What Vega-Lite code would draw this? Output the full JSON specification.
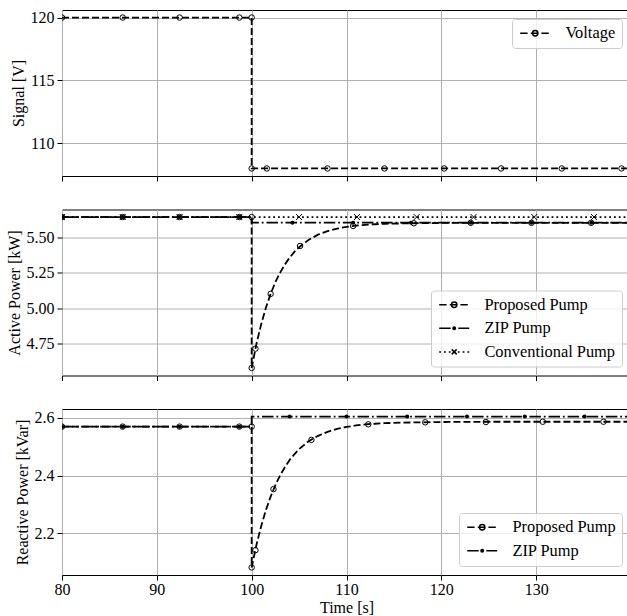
{
  "$schema": "https://vega.github.io/schema/vega-lite/v6.json",
  "padding": {"left": 5, "top": 9, "right": 0, "bottom": 0},
  "background": "white",
  "spacing": 26.5,
  "config": {
    "font": "Liberation Serif",
    "view": {"stroke": "black", "strokeWidth": 1},
    "axis": {
      "labelFont": "Liberation Serif", "titleFont": "Liberation Serif",
      "labelFontSize": 16, "titleFontSize": 16, "labelColor": "black", "titleColor": "black",
      "titleFontWeight": "normal", "domain": false, "tickColor": "black", "tickSize": 5, "tickWidth": 1,
      "gridColor": "#b0b0b0", "gridWidth": 1, "labelPadding": 3, "labelFlush": false, "titlePadding": 4
    },
    "legend": {
      "title": null, "labelFont": "Liberation Serif", "labelFontSize": 16.4, "labelColor": "black",
      "symbolSize": 100, "labelOffset": 31, "rowPadding": 6.6, "padding": 6, "offset": 9,
      "symbolOpacity": 1, "symbolStrokeColor": "black", "symbolStrokeWidth": 1.5, "symbolFillColor": "transparent",
      "strokeColor": "#cccccc", "fillColor": "rgba(255,255,255,0.8)", "cornerRadius": 3
    }
  },
  "datasets": {
    "lines": [
      {"p": "V", "s": "Voltage", "t": 80, "v": 120},
      {"p": "V", "s": "Voltage", "t": 100, "v": 120},
      {"p": "V", "s": "Voltage", "t": 100, "v": 108},
      {"p": "V", "s": "Voltage", "t": 140, "v": 108},
      {"p": "A", "s": "Proposed Pump", "t": 80, "v": 5.645},
      {"p": "A", "s": "Proposed Pump", "t": 100, "v": 5.645},
      {"p": "A", "s": "Proposed Pump", "t": 100, "v": 4.575},
      {"p": "A", "s": "Proposed Pump", "t": 100.5, "v": 4.744},
      {"p": "A", "s": "Proposed Pump", "t": 101, "v": 4.884},
      {"p": "A", "s": "Proposed Pump", "t": 101.5, "v": 5.002},
      {"p": "A", "s": "Proposed Pump", "t": 102, "v": 5.100},
      {"p": "A", "s": "Proposed Pump", "t": 102.5, "v": 5.183},
      {"p": "A", "s": "Proposed Pump", "t": 103, "v": 5.251},
      {"p": "A", "s": "Proposed Pump", "t": 103.5, "v": 5.308},
      {"p": "A", "s": "Proposed Pump", "t": 104, "v": 5.357},
      {"p": "A", "s": "Proposed Pump", "t": 104.5, "v": 5.398},
      {"p": "A", "s": "Proposed Pump", "t": 105, "v": 5.431},
      {"p": "A", "s": "Proposed Pump", "t": 106, "v": 5.483},
      {"p": "A", "s": "Proposed Pump", "t": 107, "v": 5.520},
      {"p": "A", "s": "Proposed Pump", "t": 108, "v": 5.545},
      {"p": "A", "s": "Proposed Pump", "t": 109, "v": 5.563},
      {"p": "A", "s": "Proposed Pump", "t": 110, "v": 5.575},
      {"p": "A", "s": "Proposed Pump", "t": 111, "v": 5.584},
      {"p": "A", "s": "Proposed Pump", "t": 112, "v": 5.590},
      {"p": "A", "s": "Proposed Pump", "t": 113, "v": 5.594},
      {"p": "A", "s": "Proposed Pump", "t": 114, "v": 5.597},
      {"p": "A", "s": "Proposed Pump", "t": 116, "v": 5.600},
      {"p": "A", "s": "Proposed Pump", "t": 118, "v": 5.602},
      {"p": "A", "s": "Proposed Pump", "t": 120, "v": 5.603},
      {"p": "A", "s": "Proposed Pump", "t": 125, "v": 5.604},
      {"p": "A", "s": "Proposed Pump", "t": 140, "v": 5.604},
      {"p": "A", "s": "ZIP Pump", "t": 80, "v": 5.645},
      {"p": "A", "s": "ZIP Pump", "t": 100, "v": 5.645},
      {"p": "A", "s": "ZIP Pump", "t": 100, "v": 5.605},
      {"p": "A", "s": "ZIP Pump", "t": 140, "v": 5.605},
      {"p": "A", "s": "Conventional Pump", "t": 80, "v": 5.645},
      {"p": "A", "s": "Conventional Pump", "t": 140, "v": 5.645},
      {"p": "R", "s": "Proposed Pump", "t": 80, "v": 2.570},
      {"p": "R", "s": "Proposed Pump", "t": 100, "v": 2.570},
      {"p": "R", "s": "Proposed Pump", "t": 100, "v": 2.081},
      {"p": "R", "s": "Proposed Pump", "t": 100.5, "v": 2.159},
      {"p": "R", "s": "Proposed Pump", "t": 101, "v": 2.224},
      {"p": "R", "s": "Proposed Pump", "t": 101.5, "v": 2.280},
      {"p": "R", "s": "Proposed Pump", "t": 102, "v": 2.327},
      {"p": "R", "s": "Proposed Pump", "t": 102.5, "v": 2.367},
      {"p": "R", "s": "Proposed Pump", "t": 103, "v": 2.401},
      {"p": "R", "s": "Proposed Pump", "t": 103.5, "v": 2.429},
      {"p": "R", "s": "Proposed Pump", "t": 104, "v": 2.454},
      {"p": "R", "s": "Proposed Pump", "t": 104.5, "v": 2.474},
      {"p": "R", "s": "Proposed Pump", "t": 105, "v": 2.492},
      {"p": "R", "s": "Proposed Pump", "t": 106, "v": 2.519},
      {"p": "R", "s": "Proposed Pump", "t": 107, "v": 2.538},
      {"p": "R", "s": "Proposed Pump", "t": 108, "v": 2.552},
      {"p": "R", "s": "Proposed Pump", "t": 109, "v": 2.562},
      {"p": "R", "s": "Proposed Pump", "t": 110, "v": 2.569},
      {"p": "R", "s": "Proposed Pump", "t": 111, "v": 2.574},
      {"p": "R", "s": "Proposed Pump", "t": 112, "v": 2.578},
      {"p": "R", "s": "Proposed Pump", "t": 113, "v": 2.580},
      {"p": "R", "s": "Proposed Pump", "t": 114, "v": 2.582},
      {"p": "R", "s": "Proposed Pump", "t": 116, "v": 2.584},
      {"p": "R", "s": "Proposed Pump", "t": 118, "v": 2.585},
      {"p": "R", "s": "Proposed Pump", "t": 120, "v": 2.586},
      {"p": "R", "s": "Proposed Pump", "t": 125, "v": 2.587},
      {"p": "R", "s": "Proposed Pump", "t": 140, "v": 2.587},
      {"p": "R", "s": "ZIP Pump", "t": 80, "v": 2.570},
      {"p": "R", "s": "ZIP Pump", "t": 100, "v": 2.570},
      {"p": "R", "s": "ZIP Pump", "t": 100, "v": 2.605},
      {"p": "R", "s": "ZIP Pump", "t": 140, "v": 2.605}
    ],
    "markers": [
      {"p": "V", "s": "Voltage", "t": 80, "v": 120},
      {"p": "V", "s": "Voltage", "t": 86.4, "v": 120},
      {"p": "V", "s": "Voltage", "t": 92.4, "v": 120},
      {"p": "V", "s": "Voltage", "t": 98.7, "v": 120},
      {"p": "V", "s": "Voltage", "t": 100, "v": 120},
      {"p": "V", "s": "Voltage", "t": 100, "v": 108},
      {"p": "V", "s": "Voltage", "t": 101.6, "v": 108},
      {"p": "V", "s": "Voltage", "t": 108.0, "v": 108},
      {"p": "V", "s": "Voltage", "t": 114.0, "v": 108},
      {"p": "V", "s": "Voltage", "t": 120.3, "v": 108},
      {"p": "V", "s": "Voltage", "t": 126.3, "v": 108},
      {"p": "V", "s": "Voltage", "t": 132.7, "v": 108},
      {"p": "V", "s": "Voltage", "t": 139.0, "v": 108},
      {"p": "A", "s": "Proposed Pump", "t": 80, "v": 5.645},
      {"p": "A", "s": "Proposed Pump", "t": 86.4, "v": 5.645},
      {"p": "A", "s": "Proposed Pump", "t": 92.4, "v": 5.645},
      {"p": "A", "s": "Proposed Pump", "t": 98.7, "v": 5.645},
      {"p": "A", "s": "Proposed Pump", "t": 100, "v": 5.645},
      {"p": "A", "s": "Proposed Pump", "t": 100, "v": 4.575},
      {"p": "A", "s": "Proposed Pump", "t": 100.4, "v": 4.712},
      {"p": "A", "s": "Proposed Pump", "t": 102.0, "v": 5.100},
      {"p": "A", "s": "Proposed Pump", "t": 105.1, "v": 5.440},
      {"p": "A", "s": "Proposed Pump", "t": 110.7, "v": 5.582},
      {"p": "A", "s": "Proposed Pump", "t": 117.1, "v": 5.601},
      {"p": "A", "s": "Proposed Pump", "t": 123.1, "v": 5.604},
      {"p": "A", "s": "Proposed Pump", "t": 129.5, "v": 5.604},
      {"p": "A", "s": "Proposed Pump", "t": 135.8, "v": 5.604},
      {"p": "A", "s": "ZIP Pump", "t": 80, "v": 5.645},
      {"p": "A", "s": "ZIP Pump", "t": 86.4, "v": 5.645},
      {"p": "A", "s": "ZIP Pump", "t": 92.4, "v": 5.645},
      {"p": "A", "s": "ZIP Pump", "t": 98.7, "v": 5.645},
      {"p": "A", "s": "ZIP Pump", "t": 104.3, "v": 5.605},
      {"p": "A", "s": "ZIP Pump", "t": 110.7, "v": 5.605},
      {"p": "A", "s": "ZIP Pump", "t": 116.8, "v": 5.605},
      {"p": "A", "s": "ZIP Pump", "t": 123.1, "v": 5.605},
      {"p": "A", "s": "ZIP Pump", "t": 129.5, "v": 5.605},
      {"p": "A", "s": "ZIP Pump", "t": 135.8, "v": 5.605},
      {"p": "A", "s": "Conventional Pump", "t": 80, "v": 5.645},
      {"p": "A", "s": "Conventional Pump", "t": 86.4, "v": 5.645},
      {"p": "A", "s": "Conventional Pump", "t": 92.4, "v": 5.645},
      {"p": "A", "s": "Conventional Pump", "t": 98.7, "v": 5.645},
      {"p": "A", "s": "Conventional Pump", "t": 105.0, "v": 5.645},
      {"p": "A", "s": "Conventional Pump", "t": 111.1, "v": 5.645},
      {"p": "A", "s": "Conventional Pump", "t": 117.4, "v": 5.645},
      {"p": "A", "s": "Conventional Pump", "t": 123.4, "v": 5.645},
      {"p": "A", "s": "Conventional Pump", "t": 129.8, "v": 5.645},
      {"p": "A", "s": "Conventional Pump", "t": 136.1, "v": 5.645},
      {"p": "R", "s": "Proposed Pump", "t": 80, "v": 2.570},
      {"p": "R", "s": "Proposed Pump", "t": 86.4, "v": 2.570},
      {"p": "R", "s": "Proposed Pump", "t": 92.4, "v": 2.570},
      {"p": "R", "s": "Proposed Pump", "t": 98.7, "v": 2.570},
      {"p": "R", "s": "Proposed Pump", "t": 100, "v": 2.570},
      {"p": "R", "s": "Proposed Pump", "t": 100, "v": 2.081},
      {"p": "R", "s": "Proposed Pump", "t": 100.4, "v": 2.141},
      {"p": "R", "s": "Proposed Pump", "t": 102.3, "v": 2.353},
      {"p": "R", "s": "Proposed Pump", "t": 106.3, "v": 2.524},
      {"p": "R", "s": "Proposed Pump", "t": 112.3, "v": 2.578},
      {"p": "R", "s": "Proposed Pump", "t": 118.3, "v": 2.585},
      {"p": "R", "s": "Proposed Pump", "t": 124.7, "v": 2.586},
      {"p": "R", "s": "Proposed Pump", "t": 130.7, "v": 2.587},
      {"p": "R", "s": "Proposed Pump", "t": 137.1, "v": 2.587},
      {"p": "R", "s": "ZIP Pump", "t": 80, "v": 2.570},
      {"p": "R", "s": "ZIP Pump", "t": 86.4, "v": 2.570},
      {"p": "R", "s": "ZIP Pump", "t": 92.4, "v": 2.570},
      {"p": "R", "s": "ZIP Pump", "t": 98.7, "v": 2.570},
      {"p": "R", "s": "ZIP Pump", "t": 104.0, "v": 2.605},
      {"p": "R", "s": "ZIP Pump", "t": 110.0, "v": 2.605},
      {"p": "R", "s": "ZIP Pump", "t": 116.4, "v": 2.605},
      {"p": "R", "s": "ZIP Pump", "t": 122.7, "v": 2.605},
      {"p": "R", "s": "ZIP Pump", "t": 128.8, "v": 2.605},
      {"p": "R", "s": "ZIP Pump", "t": 135.1, "v": 2.605}
    ]
  },
  "resolve": {"scale": {"shape": "independent", "y": "independent"}, "legend": {"shape": "independent"}},
  "vconcat": [
    {
      "width": 569, "height": 166,
      "encoding": {
        "x": {"field": "t", "type": "quantitative", "scale": {"domain": [80, 140], "nice": false, "zero": false}, "axis": {"title": null, "labels": false, "values": [80, 90, 100, 110, 120, 130]}},
        "y": {"field": "v", "type": "quantitative", "scale": {"domain": [107.4, 120.6], "nice": false, "zero": false}, "axis": {"title": "Signal [V]", "values": [110, 115, 120]}}
      },
      "layer": [
        {
          "data": {"name": "lines"},
          "transform": [{"filter": "datum.p == 'V'"}],
          "mark": {"type": "line", "color": "black", "strokeWidth": 1.8, "strokeDash": [7, 3], "clip": true},
          "encoding": {"order": {"value": null}}
        },
        {
          "data": {"name": "markers"},
          "transform": [{"filter": "datum.p == 'V'"}],
          "mark": {"type": "point", "shape": "circle", "filled": false, "color": "black", "strokeWidth": 1, "size": 30, "opacity": 1, "clip": true},
          "encoding": {}
        },
        {
          "data": {"name": "markers"},
          "transform": [{"filter": "datum.p == 'V'"}],
          "mark": {"type": "point", "filled": false, "color": "black", "opacity": 0},
          "encoding": {
            "shape": {"field": "s", "type": "nominal",
              "scale": {"domain": ["Voltage"], "range": ["M-1.2,0H0.28M0.92,0H2.4M3.04,0H4.52M1.26,0A0.54,0.54,0,1,1,2.34,0A0.54,0.54,0,1,1,1.26,0"]},
              "legend": {"orient": "top-right"}}
          }
        }
      ]
    },
    {
      "width": 569, "height": 166,
      "encoding": {
        "x": {"field": "t", "type": "quantitative", "scale": {"domain": [80, 140], "nice": false, "zero": false}, "axis": {"title": null, "labels": false, "values": [80, 90, 100, 110, 120, 130]}},
        "y": {"field": "v", "type": "quantitative", "scale": {"domain": [4.5215, 5.6985], "nice": false, "zero": false}, "axis": {"title": "Active Power [kW]", "values": [4.75, 5.0, 5.25, 5.5], "format": ".2f"}}
      },
      "layer": [
        {
          "data": {"name": "lines"},
          "transform": [{"filter": "datum.p == 'A' && datum.s == 'Proposed Pump'"}],
          "mark": {"type": "line", "color": "black", "strokeWidth": 1.8, "strokeDash": [7, 3], "clip": true},
          "encoding": {"order": {"value": null}}
        },
        {
          "data": {"name": "markers"},
          "transform": [{"filter": "datum.p == 'A' && datum.s == 'Proposed Pump'"}],
          "mark": {"type": "point", "shape": "circle", "filled": false, "color": "black", "strokeWidth": 1, "size": 30, "opacity": 1, "clip": true},
          "encoding": {}
        },
        {
          "data": {"name": "lines"},
          "transform": [{"filter": "datum.p == 'A' && datum.s == 'ZIP Pump'"}],
          "mark": {"type": "line", "color": "black", "strokeWidth": 1.8, "strokeDash": [11.5, 2.9, 1.8, 2.9], "clip": true},
          "encoding": {"order": {"value": null}}
        },
        {
          "data": {"name": "markers"},
          "transform": [{"filter": "datum.p == 'A' && datum.s == 'ZIP Pump'"}],
          "mark": {"type": "point", "shape": "circle", "filled": true, "color": "black", "size": 16, "opacity": 1, "clip": true},
          "encoding": {}
        },
        {
          "data": {"name": "lines"},
          "transform": [{"filter": "datum.p == 'A' && datum.s == 'Conventional Pump'"}],
          "mark": {"type": "line", "color": "black", "strokeWidth": 1.8, "strokeDash": [1.8, 3], "clip": true},
          "encoding": {"order": {"value": null}}
        },
        {
          "data": {"name": "markers"},
          "transform": [{"filter": "datum.p == 'A' && datum.s == 'Conventional Pump'"}],
          "mark": {"type": "point", "shape": "M-1,-1L1,1M1,-1L-1,1", "filled": false, "color": "black", "strokeWidth": 1, "size": 36, "opacity": 1, "clip": true},
          "encoding": {}
        },
        {
          "data": {"name": "markers"},
          "transform": [{"filter": "datum.p == 'A'"}],
          "mark": {"type": "point", "filled": false, "color": "black", "opacity": 0},
          "encoding": {
            "shape": {"field": "s", "type": "nominal",
              "scale": {"domain": ["Proposed Pump", "ZIP Pump", "Conventional Pump"], "range": [
                "M-1.2,0H0.28M0.92,0H2.4M3.04,0H4.52M1.26,0A0.54,0.54,0,1,1,2.34,0A0.54,0.54,0,1,1,1.26,0",
                "M-1.2,0H1.1M1.68,0H2.04M2.62,0H4.8M1.55,0A0.25,0.25,0,1,1,2.05,0A0.25,0.25,0,1,1,1.55,0M1.72,0A0.08,0.08,0,1,1,1.88,0A0.08,0.08,0,1,1,1.72,0",
                "M-1.2,0H-0.84M-0.24,0H0.12M0.72,0H1.08M2.52,0H2.88M3.48,0H3.84M4.44,0H4.8M1.3,-0.5L2.3,0.5M2.3,-0.5L1.3,0.5"]},
              "legend": {"orient": "bottom-right"}}
          }
        }
      ]
    },
    {
      "width": 569, "height": 166,
      "encoding": {
        "x": {"field": "t", "type": "quantitative", "scale": {"domain": [80, 140], "nice": false, "zero": false}, "axis": {"title": "Time [s]", "titlePadding": 2, "labelPadding": 1, "values": [80, 90, 100, 110, 120, 130]}},
        "y": {"field": "v", "type": "quantitative", "scale": {"domain": [2.0548, 2.6312], "nice": false, "zero": false}, "axis": {"title": "Reactive Power [kVar]", "values": [2.2, 2.4, 2.6], "format": ".1f"}}
      },
      "layer": [
        {
          "data": {"name": "lines"},
          "transform": [{"filter": "datum.p == 'R' && datum.s == 'Proposed Pump'"}],
          "mark": {"type": "line", "color": "black", "strokeWidth": 1.8, "strokeDash": [7, 3], "clip": true},
          "encoding": {"order": {"value": null}}
        },
        {
          "data": {"name": "markers"},
          "transform": [{"filter": "datum.p == 'R' && datum.s == 'Proposed Pump'"}],
          "mark": {"type": "point", "shape": "circle", "filled": false, "color": "black", "strokeWidth": 1, "size": 30, "opacity": 1, "clip": true},
          "encoding": {}
        },
        {
          "data": {"name": "lines"},
          "transform": [{"filter": "datum.p == 'R' && datum.s == 'ZIP Pump'"}],
          "mark": {"type": "line", "color": "black", "strokeWidth": 1.8, "strokeDash": [11.5, 2.9, 1.8, 2.9], "clip": true},
          "encoding": {"order": {"value": null}}
        },
        {
          "data": {"name": "markers"},
          "transform": [{"filter": "datum.p == 'R' && datum.s == 'ZIP Pump'"}],
          "mark": {"type": "point", "shape": "circle", "filled": true, "color": "black", "size": 16, "opacity": 1, "clip": true},
          "encoding": {}
        },
        {
          "data": {"name": "markers"},
          "transform": [{"filter": "datum.p == 'R'"}],
          "mark": {"type": "point", "filled": false, "color": "black", "opacity": 0},
          "encoding": {
            "shape": {"field": "s", "type": "nominal",
              "scale": {"domain": ["Proposed Pump", "ZIP Pump"], "range": [
                "M-1.2,0H0.28M0.92,0H2.4M3.04,0H4.52M1.26,0A0.54,0.54,0,1,1,2.34,0A0.54,0.54,0,1,1,1.26,0",
                "M-1.2,0H1.1M1.68,0H2.04M2.62,0H4.8M1.55,0A0.25,0.25,0,1,1,2.05,0A0.25,0.25,0,1,1,1.55,0M1.72,0A0.08,0.08,0,1,1,1.88,0A0.08,0.08,0,1,1,1.72,0"]},
              "legend": {"orient": "bottom-right"}}
          }
        }
      ]
    }
  ]
}
